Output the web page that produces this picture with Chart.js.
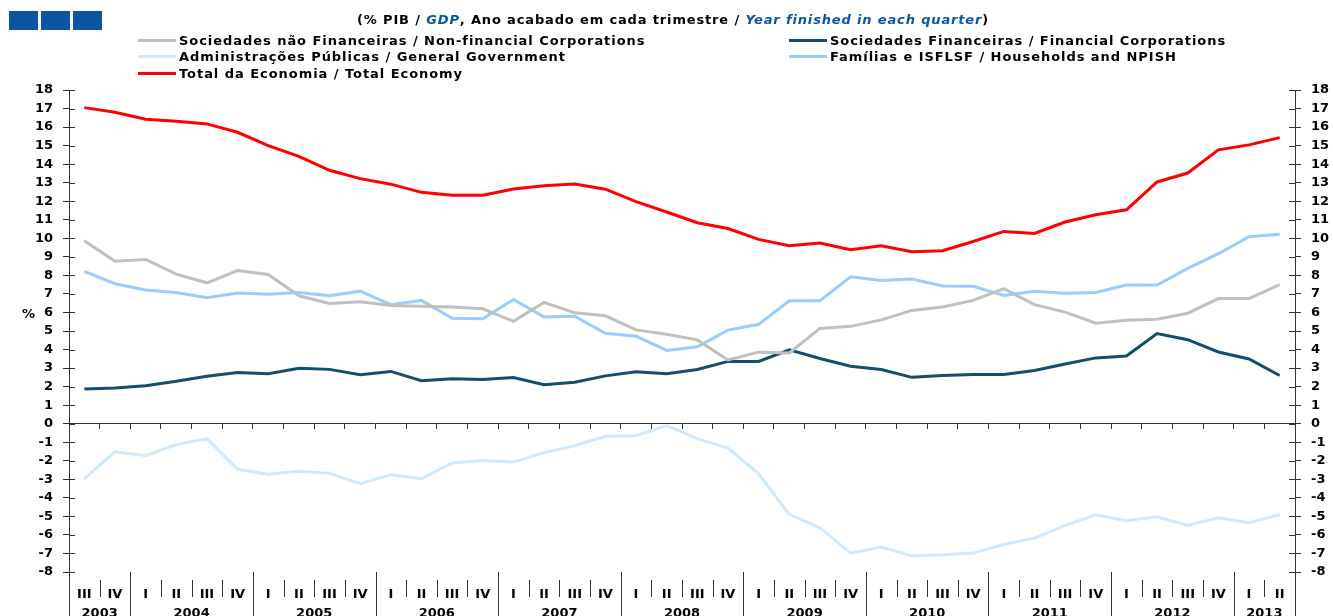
<!DOCTYPE html>
<html>
<head>
<meta charset="utf-8">
<script src="https://cdn.jsdelivr.net/npm/chart.js@4.4.0/dist/chart.umd.min.js"></script>
<style>
  body { margin: 0; background: #fff; }
  #wrap { position: relative; width: 1333px; height: 616px; overflow: hidden; font-family: 'DejaVu Sans', sans-serif; font-weight: bold; }
  #chart { position: absolute; left: 0; top: 0; }
  .sq { position: absolute; top: 11px; width: 29px; height: 19px; background: #0b56a0; }
  #title { position: absolute; left: 357px; top: 12px; font-size: 13px; line-height: 16px; letter-spacing: 0.85px; white-space: nowrap; color: #000; }
  #title i { color: #0b56a0; }
  .leg { position: absolute; font-size: 13px; line-height: 16px; letter-spacing: 0.95px; white-space: nowrap; color: #000; }
  .leg span.sw { display: inline-block; width: 38px; height: 3px; vertical-align: middle; margin-right: 3px; position: relative; top: -1px; }
  #pct { position: absolute; left: 22px; top: 306px; font-size: 13px; }
</style>
</head>
<body>
<div id="wrap">
  <canvas id="chart" width="1333" height="616"></canvas>
  <div class="sq" style="left:9px"></div>
  <div class="sq" style="left:41px"></div>
  <div class="sq" style="left:73px"></div>
  <div id="title">(% PIB / <i>GDP</i>, Ano acabado em cada trimestre / <i>Year finished in each quarter</i>)</div>
  <div id="legend"></div>
  <div id="pct">%</div>
</div>
<script>
// anos e trimestres (2003 III ... 2013 II)
const anos = ['2003', '2004', '2005', '2006', '2007', '2008', '2009', '2010', '2011', '2012', '2013'];
const trimestresPorAno = [
  ['III', 'IV'],
  ['I', 'II', 'III', 'IV'], ['I', 'II', 'III', 'IV'], ['I', 'II', 'III', 'IV'],
  ['I', 'II', 'III', 'IV'], ['I', 'II', 'III', 'IV'], ['I', 'II', 'III', 'IV'],
  ['I', 'II', 'III', 'IV'], ['I', 'II', 'III', 'IV'], ['I', 'II', 'III', 'IV'],
  ['I', 'II']
];
const trimestres = trimestresPorAno.flat();

// séries (% PIB)
const naoFinanceiras = [9.87, 8.76, 8.86, 8.07, 7.6, 8.26, 8.05, 6.9, 6.48, 6.58, 6.38, 6.34, 6.3, 6.2, 5.52, 6.54, 5.98, 5.82, 5.06, 4.82, 4.52, 3.44, 3.86, 3.82, 5.14, 5.25, 5.6, 6.11, 6.3, 6.65, 7.28, 6.42, 6.02, 5.42, 5.58, 5.64, 5.96, 6.75, 6.75, 7.5];
const financeiras = [1.87, 1.93, 2.05, 2.29, 2.56, 2.76, 2.7, 2.99, 2.93, 2.64, 2.82, 2.32, 2.42, 2.38, 2.49, 2.1, 2.24, 2.58, 2.8, 2.7, 2.92, 3.36, 3.36, 3.99, 3.52, 3.1, 2.92, 2.5, 2.6, 2.65, 2.65, 2.87, 3.22, 3.55, 3.65, 4.86, 4.53, 3.87, 3.49, 2.6];
const administracoes = [-2.97, -1.51, -1.73, -1.13, -0.81, -2.46, -2.73, -2.57, -2.68, -3.24, -2.75, -2.97, -2.12, -1.98, -2.07, -1.56, -1.19, -0.68, -0.65, -0.1, -0.81, -1.31, -2.7, -4.89, -5.61, -6.98, -6.65, -7.14, -7.07, -6.98, -6.51, -6.17, -5.49, -4.91, -5.23, -5.02, -5.49, -5.07, -5.34, -4.91];
const familias = [8.22, 7.55, 7.21, 7.08, 6.8, 7.05, 6.98, 7.08, 6.9, 7.15, 6.42, 6.65, 5.69, 5.66, 6.7, 5.76, 5.8, 4.88, 4.72, 3.95, 4.15, 5.05, 5.36, 6.63, 6.63, 7.92, 7.72, 7.8, 7.43, 7.41, 6.92, 7.15, 7.04, 7.08, 7.48, 7.48, 8.38, 9.17, 10.09, 10.22];
const totalEconomia = [17.05, 16.8, 16.42, 16.32, 16.17, 15.72, 15.0, 14.42, 13.67, 13.22, 12.92, 12.48, 12.32, 12.32, 12.66, 12.84, 12.93, 12.65, 11.98, 11.42, 10.84, 10.53, 9.94, 9.6, 9.75, 9.38, 9.6, 9.27, 9.33, 9.83, 10.37, 10.26, 10.88, 11.27, 11.54, 13.04, 13.52, 14.77, 15.04, 15.43];

const series = [
  { label: 'Sociedades não Financeiras / Non-financial Corporations', data: naoFinanceiras, color: '#c0c0c0' },
  { label: 'Sociedades Financeiras / Financial Corporations', data: financeiras, color: '#134e6f' },
  { label: 'Administrações Públicas / General Government', data: administracoes, color: '#cfeafc' },
  { label: 'Famílias e ISFLSF / Households and NPISH', data: familias, color: '#99ccff' },
  { label: 'Total da Economia / Total Economy', data: totalEconomia, color: '#ff0000' }
];

// legenda em duas colunas
const legendEl = document.getElementById('legend');
const colX = [138, 789];
const rowY = [33, 49, 66];
series.forEach((s, i) => {
  const d = document.createElement('div');
  d.className = 'leg';
  d.style.left = colX[i % 2] + 'px';
  d.style.top = rowY[Math.floor(i / 2)] + 'px';
  d.innerHTML = '<span class="sw" style="background:' + s.color + '"></span>' + s.label;
  legendEl.appendChild(d);
});

Chart.defaults.font.family = "'DejaVu Sans', sans-serif";
Chart.defaults.font.weight = 'bold';
Chart.defaults.font.size = 13;
Chart.defaults.color = '#000';

// separadores de trimestres / anos, rótulos dos anos e marcas interiores do eixo y
const anosPlugin = {
  id: 'anos',
  afterDraw(chart) {
    const ctx = chart.ctx;
    const x = chart.scales.x;
    const y = chart.scales.y;
    const area = chart.chartArea;
    const h = chart.height;
    const half = (x.getPixelForValue(1) - x.getPixelForValue(0)) / 2;
    ctx.save();
    ctx.strokeStyle = '#333';
    ctx.lineWidth = 1;
    let idx = 0;
    const yearStarts = [];
    trimestresPorAno.forEach(q => { yearStarts.push(idx); idx += q.length; });
    for (let i = 0; i <= trimestres.length; i++) {
      const px = Math.round(x.getPixelForValue(i) - half) + 0.5;
      const isYear = i === trimestres.length || yearStarts.includes(i);
      ctx.beginPath();
      if (isYear) { ctx.moveTo(px, area.bottom); ctx.lineTo(px, h); }
      else { ctx.moveTo(px, area.bottom + 8); ctx.lineTo(px, area.bottom + 25); }
      ctx.stroke();
    }
    // marcas para dentro nos dois eixos verticais
    y.ticks.forEach(t => {
      const py = Math.round(y.getPixelForValue(t.value)) + 0.5;
      ctx.beginPath();
      ctx.moveTo(area.left, py); ctx.lineTo(area.left + 6, py);
      ctx.moveTo(area.right - 6, py); ctx.lineTo(area.right, py);
      ctx.stroke();
    });
    ctx.fillStyle = '#000';
    ctx.font = "bold 13px 'DejaVu Sans', sans-serif";
    ctx.textAlign = 'center';
    ctx.textBaseline = 'top';
    anos.forEach((a, k) => {
      const first = yearStarts[k];
      const last = first + trimestresPorAno[k].length - 1;
      const cx = (x.getPixelForValue(first) + x.getPixelForValue(last)) / 2;
      ctx.fillText(a, cx, area.bottom + 35);
    });
    ctx.restore();
  }
};

const yTicks = { stepSize: 1, padding: 10, autoSkip: false, font: { size: 13, weight: 'bold' } };

new Chart(document.getElementById('chart'), {
  type: 'line',
  data: {
    labels: trimestres,
    datasets: series.map(s => ({
      label: s.label,
      data: s.data,
      borderColor: s.color,
      backgroundColor: s.color,
      borderWidth: 3,
      pointRadius: 0,
      tension: 0,
      yAxisID: 'y'
    }))
  },
  options: {
    responsive: false,
    animation: false,
    devicePixelRatio: 1,
    layout: { padding: { top: 90, left: 0, right: 0, bottom: 0 } },
    plugins: { legend: { display: false }, tooltip: { enabled: false } },
    scales: {
      x: {
        offset: true,
        grid: { display: false },
        border: { display: false },
        ticks: { padding: 7, autoSkip: false, maxRotation: 0, font: { size: 13, weight: 'bold' } },
        afterFit: s => { s.height = 44; }
      },
      xz: {
        type: 'category',
        position: { y: 0 },
        offset: true,
        grid: { offset: true, drawOnChartArea: false, drawTicks: true, tickLength: 5, color: '#333' },
        border: { color: '#333', width: 1 },
        ticks: { display: false }
      },
      y: {
        min: -8, max: 18,
        position: 'left',
        ticks: yTicks,
        grid: { drawOnChartArea: false, tickLength: 6, color: '#333' },
        border: { color: '#333' },
        afterFit: s => { s.width = 69; }
      },
      y2: {
        min: -8, max: 18,
        position: 'right',
        ticks: yTicks,
        grid: { drawOnChartArea: false, tickLength: 6, color: '#333' },
        border: { color: '#333' },
        afterFit: s => { s.width = 38; }
      }
    }
  },
  plugins: [anosPlugin]
});
</script>
</body>
</html>
